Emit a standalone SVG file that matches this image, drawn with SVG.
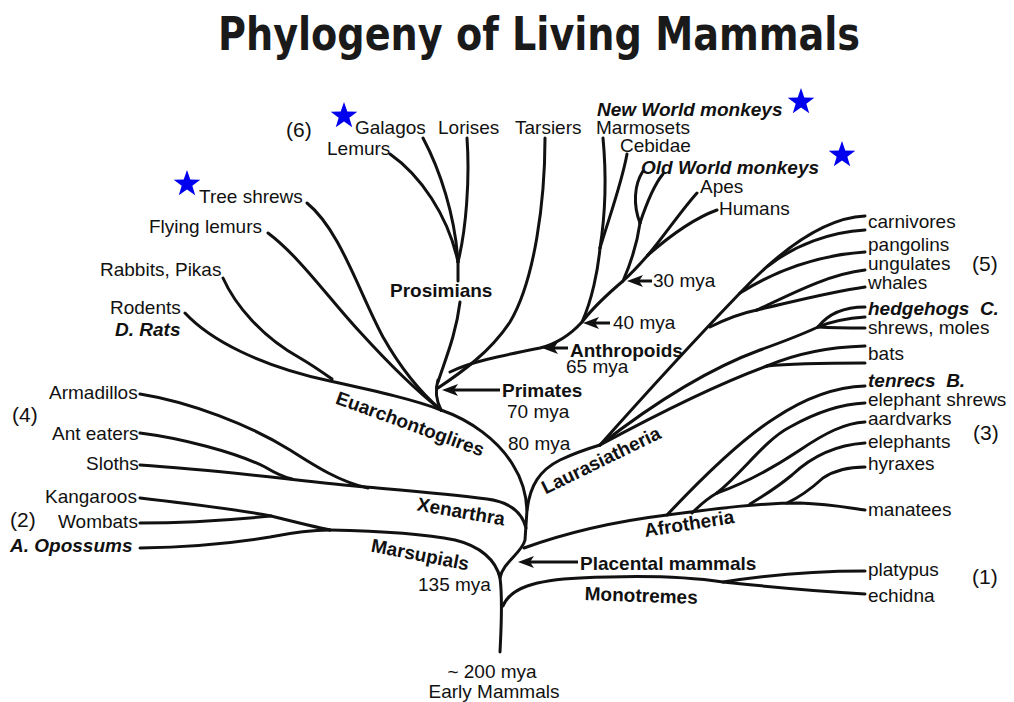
<svg xmlns="http://www.w3.org/2000/svg" width="1014" height="702" viewBox="0 0 1014 702">
<style>
.br{fill:none;stroke:#111;stroke-width:3;stroke-linecap:round;stroke-linejoin:round}
.ar{fill:none;stroke:#111;stroke-width:3}
text{font-family:"Liberation Sans",Arial,sans-serif;font-size:19px;fill:#111}
.b{font-weight:bold}
.bi{font-weight:bold;font-style:italic}
.num{font-size:21px}
.title{font-family:"DejaVu Sans Condensed","Liberation Sans Narrow","Liberation Sans",sans-serif;font-size:46px;font-weight:bold;fill:#1a1a1a}
.star{fill:#0000ee}
</style>
<defs>
<marker id="ah" viewBox="0 0 16 12" refX="6" refY="6" markerWidth="16" markerHeight="12" orient="auto" markerUnits="userSpaceOnUse"><path d="M0,0 L16,6 L0,12 L4,6 Z" fill="#111"/></marker>
<path id="star" d="M0,-14 L3.29,-4.53 L13.31,-4.33 L5.33,1.73 L8.23,11.33 L0,5.6 L-8.23,11.33 L-5.33,1.73 L-13.31,-4.33 L-3.29,-4.53 Z"/>
</defs>
<rect width="1014" height="702" fill="#fff"/>

<g id="title"><text class="title" x="218" y="50" textLength="642" lengthAdjust="spacingAndGlyphs">Phylogeny of Living Mammals</text></g>

<g id="connectors">
<path class="br" d="M500,652 C501,630 503,600 500,578 C503,562 522,553 525,540 L527,510 C526,490 520,476 513,465 C498,440 470,420 441,410"/>
<path class="br" d="M441,410 C436,400 435,390 438,380"/>
<path class="br" d="M438,382 C445,360 456,335 460,302"/>
<path class="br" d="M458,281 L458,262"/>
<path class="br" d="M390,154 C420,175 448,215 458,262"/>
<path class="br" d="M423,138 C440,170 455,215 458,262"/>
<path class="br" d="M467,138 C470,180 466,230 458,262"/>
<path class="br" d="M545,138 C545,200 535,280 510,322 C490,352 462,372 438,388"/>
<path class="br" d="M450,372 C470,362 500,356 540,348 C560,343 572,333 582,322 C595,305 610,292 623,281 C633,272 641,263 648,255"/>
<path class="br" d="M648,255 C665,235 680,212 697,193"/>
<path class="br" d="M648,255 C672,234 695,218 717,210"/>
<path class="br" d="M582,322 C592,300 598,270 600,248"/>
<path class="br" d="M600,248 C606,210 606,170 603,138"/>
<path class="br" d="M600,248 C610,215 622,182 627,154"/>
<path class="br" d="M623,281 C630,265 637,245 640,223"/>
<path class="br" d="M640,223 C633,205 634,185 643,171"/>
<path class="br" d="M640,223 C646,205 653,186 663,174"/>
<path class="br" d="M307,203 C340,230 358,290 383,337 C400,367 420,392 441,410"/>
<path class="br" d="M268,233 C300,257 330,300 360,332 C390,365 418,392 441,410"/>
<path class="br" d="M223,278 C235,305 262,337 300,358 C312,365 322,372 332,379"/>
<path class="br" d="M185,313 C210,340 260,366 330,381 C380,392 415,400 441,410"/>
<path class="br" d="M526,528 C522,512 510,502 487,499 C450,494 400,490 366,487 C300,481 220,470 140,465"/>
<path class="br" d="M140,394 C190,402 250,425 290,450 C315,466 340,482 368,488"/>
<path class="br" d="M140,433 C180,438 235,452 265,467 C275,473 283,477 292,479"/>
<path class="br" d="M500,578 C496,560 480,546 455,540 C420,533 380,531 330,530"/>
<path class="br" d="M140,498 C200,505 240,510 271,516 C295,522 315,527 330,530"/>
<path class="br" d="M140,523 C190,523 230,520 271,516"/>
<path class="br" d="M140,548 C200,547 240,542 270,537 C295,532 315,530 330,530"/>
<path class="br" d="M503,606 C510,588 535,580 580,578 C640,575 690,577 723,582 C780,588 830,592 865,594"/>
<path class="br" d="M723,582 C760,576 810,571 865,571"/>
<path class="br" d="M524,548 C560,535 610,522 667,515 C720,508 760,503 800,503 C830,504 850,508 865,510"/>
<path class="br" d="M667,515 C700,480 740,440 775,418 C805,398 835,387 865,386"/>
<path class="br" d="M692,513 C700,505 708,498 717,493"/>
<path class="br" d="M717,493 C745,470 765,440 790,427 C815,413 840,404 865,403"/>
<path class="br" d="M717,493 C740,485 770,470 800,450 C825,433 845,423 865,422"/>
<path class="br" d="M750,504 C765,495 780,485 792,475 C810,458 835,445 865,443"/>
<path class="br" d="M787,503 C800,497 812,488 823,478 C835,470 850,467 865,467"/>
<path class="br" d="M527,510 C530,485 540,470 560,460 C575,453 590,448 600,445"/>
<path class="br" d="M600,445 C640,400 690,345 740,293 C775,256 820,218 865,216"/>
<path class="br" d="M768,266 C795,245 830,232 865,230"/>
<path class="br" d="M740,293 C780,268 820,255 865,252"/>
<path class="br" d="M710,327 C728,318 742,313 757,310"/>
<path class="br" d="M757,310 C795,292 830,274 865,270"/>
<path class="br" d="M757,310 C800,300 830,292 865,287"/>
<path class="br" d="M600,445 C645,410 700,372 760,350 C785,341 803,334 818,327"/>
<path class="br" d="M818,327 C828,314 845,307 865,307"/>
<path class="br" d="M818,327 C835,320 850,318 865,317"/>
<path class="br" d="M818,327 C835,328 850,328 865,328"/>
<path class="br" d="M600,445 C650,418 715,385 767,366"/>
<path class="br" d="M767,366 C795,354 830,347 865,346"/>
<path class="br" d="M767,366 C795,363 830,363 865,363"/>
<line class="ar" x1="500" y1="390" x2="452" y2="390" marker-end="url(#ah)"/>
<line class="ar" x1="568" y1="348" x2="552" y2="348" marker-end="url(#ah)"/>
<line class="ar" x1="610" y1="323" x2="593" y2="323" marker-end="url(#ah)"/>
<line class="ar" x1="652" y1="281" x2="637" y2="281" marker-end="url(#ah)"/>
<line class="ar" x1="578" y1="562" x2="528" y2="562" marker-end="url(#ah)"/>
</g>

<g id="stars">
<use href="#star" class="star" transform="translate(344,116)"/>
<use href="#star" class="star" transform="translate(801,102)"/>
<use href="#star" class="star" transform="translate(842,155)"/>
<use href="#star" class="star" transform="translate(187,184)"/>
</g>

<g id="primates-tips">
<text class="num" x="286" y="137">(6)</text>
<text x="355" y="134">Galagos</text>
<text x="327" y="155">Lemurs</text>
<text x="438" y="134">Lorises</text>
<text x="515" y="134">Tarsiers</text>
<text x="596" y="134">Marmosets</text>
<text class="bi" x="597" y="116">New World monkeys</text>
<text x="620" y="152">Cebidae</text>
<text class="bi" x="641" y="174">Old World monkeys</text>
<text x="700" y="193">Apes</text>
<text x="719" y="215">Humans</text>
</g>
<g id="euarchontoglires-tips">
<text x="199" y="203">Tree shrews</text>
<text x="149" y="233">Flying lemurs</text>
<text x="100" y="276">Rabbits, Pikas</text>
<text x="110" y="314">Rodents</text>
<text class="bi" x="115" y="336">D. Rats</text>
</g>
<g id="primate-labels">
<text class="b" x="390" y="297">Prosimians</text>
<text class="b" x="502" y="397">Primates</text>
<text x="507" y="418">70 mya</text>
<text x="508" y="450">80 mya</text>
<text class="b" x="570" y="357">Anthropoids</text>
<text x="566" y="373">65 mya</text>
<text x="613" y="329">40 mya</text>
<text x="653" y="287">30 mya</text>
</g>
<g id="xenarthra-tips">
<text x="49" y="399">Armadillos</text>
<text class="num" x="12" y="422">(4)</text>
<text x="52" y="440">Ant eaters</text>
<text x="86" y="470">Sloths</text>
</g>
<g id="marsupial-tips">
<text x="45" y="503">Kangaroos</text>
<text class="num" x="10" y="527">(2)</text>
<text x="58" y="528">Wombats</text>
<text class="bi" x="10" y="552">A. Opossums</text>
</g>
<g id="clade-labels">
<text class="b" font-size="18" text-anchor="middle" transform="translate(408,430) rotate(20)">Euarchontoglires</text>
<text class="b" text-anchor="middle" transform="translate(460,518) rotate(10)">Xenarthra</text>
<text class="b" text-anchor="middle" transform="translate(419,561) rotate(11)">Marsupials</text>
<text class="b" text-anchor="middle" transform="translate(604,466) rotate(-26)">Laurasiatheria</text>
<text class="b" text-anchor="middle" transform="translate(690,530) rotate(-9)">Afrotheria</text>
<text class="b" text-anchor="middle" transform="translate(641,602) rotate(2)">Monotremes</text>
<text class="b" x="580" y="570">Placental mammals</text>
<text x="418" y="591">135 mya</text>
</g>
<g id="root">
<text text-anchor="middle" x="492" y="678">~ 200 mya</text>
<text text-anchor="middle" x="494" y="698">Early Mammals</text>
</g>
<g id="laurasiatheria-tips">
<text x="868" y="228">carnivores</text>
<text x="868" y="251">pangolins</text>
<text x="868" y="270">ungulates</text>
<text x="868" y="289">whales</text>
<text class="num" x="972" y="271">(5)</text>
<text class="bi" x="868" y="315" xml:space="preserve">hedgehogs  C.</text>
<text x="868" y="334">shrews, moles</text>
<text x="868" y="360">bats</text>
</g>
<g id="afrotheria-tips">
<text class="bi" x="868" y="387" xml:space="preserve">tenrecs  B.</text>
<text x="868" y="406">elephant shrews</text>
<text x="868" y="425">aardvarks</text>
<text x="868" y="448">elephants</text>
<text class="num" x="973" y="440">(3)</text>
<text x="868" y="470">hyraxes</text>
<text x="868" y="516">manatees</text>
</g>
<g id="monotreme-tips">
<text x="868" y="576">platypus</text>
<text x="868" y="602">echidna</text>
<text class="num" x="972" y="584">(1)</text>
</g>
</svg>
